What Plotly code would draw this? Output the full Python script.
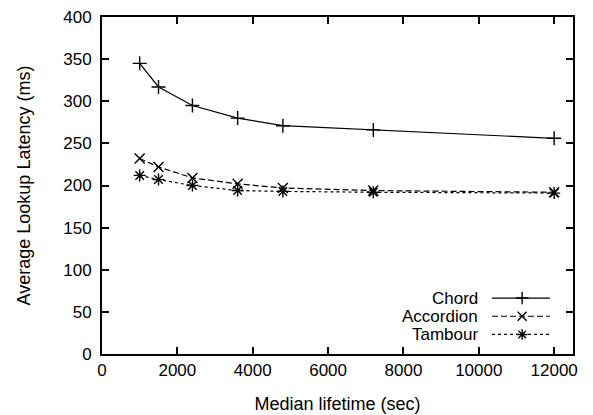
import plotly.graph_objects as go

lifetime = [1000, 1500, 2400, 3600, 4800, 7200, 12000]
chord = [345, 317, 295, 280, 271, 266, 256]
accordion = [232, 222, 209, 202, 197, 194, 192]
tambour = [212, 207, 200, 194, 193, 192, 191]

series = [
    ("Chord", chord, "solid", "cross-thin"),
    ("Accordion", accordion, "6px,3px", "x-thin"),
    ("Tambour", tambour, "3px,3px", "asterisk-open"),
]

FONT = "Liberation Sans, Arial, Helvetica, sans-serif"

fig = go.Figure()
for name, vals, dash, sym in series:
    fig.add_trace(go.Scatter(
        x=lifetime, y=vals, name=name, mode="lines+markers",
        line=dict(color="black", width=1.2, dash=dash),
        marker=dict(symbol=sym, size=10, color="black", line=dict(width=1.4, color="black")),
        showlegend=False,
    ))

# hand-made key, gnuplot style: label on the left, sample on the right
key_rows = [0.166, 0.112, 0.058]
for (name, vals, dash, sym), ky in zip(series, key_rows):
    fig.add_trace(go.Scatter(
        x=[0.828, 0.892, 0.951], y=[ky, ky, ky], xaxis="x2", yaxis="y2",
        mode="lines", line=dict(color="black", width=1.2, dash=dash),
        showlegend=False, hoverinfo="skip",
    ))
    fig.add_trace(go.Scatter(
        x=[0.892], y=[ky], xaxis="x2", yaxis="y2", mode="markers",
        marker=dict(symbol=sym, size=9, color="black", line=dict(width=1.4, color="black")),
        showlegend=False, hoverinfo="skip",
    ))
    fig.add_annotation(
        x=0.803, y=ky, xref="x2", yref="y2", text=name, showarrow=False,
        xanchor="right", yanchor="middle", height=17,
        font=dict(size=17, color="black", family=FONT),
    )

axis_style = dict(
    showline=True, linecolor="black", linewidth=2, mirror="ticks",
    ticks="inside", ticklen=7, tickwidth=2, tickcolor="black",
    showgrid=False, zeroline=False, automargin=False,
    tickfont=dict(size=17, color="black", family=FONT),
    title_font=dict(size=18, color="black", family=FONT),
)

fig.update_layout(
    width=593, height=415,
    margin=dict(l=102, r=20, t=17, b=61),
    plot_bgcolor="white", paper_bgcolor="white",
    font=dict(family=FONT, color="black"),
    xaxis=dict(range=[0, 12500], dtick=2000, tickformat="d", ticklabelstandoff=0,
               title=dict(text="Median lifetime (sec)", standoff=18), **axis_style),
    yaxis=dict(range=[0, 400], dtick=50, tickformat="d", ticklabelstandoff=5,
               title=dict(text="Average Lookup Latency (ms)", standoff=28), **axis_style),
    xaxis2=dict(range=[0, 1], overlaying="x", visible=False),
    yaxis2=dict(range=[0, 1], overlaying="y", visible=False),
)

# drop the browser's default 8px body margin so the figure sits at the page corner
fig.write_html("out.html", config={"displayModeBar": False},
               post_script="document.body.style.margin = '0';")
